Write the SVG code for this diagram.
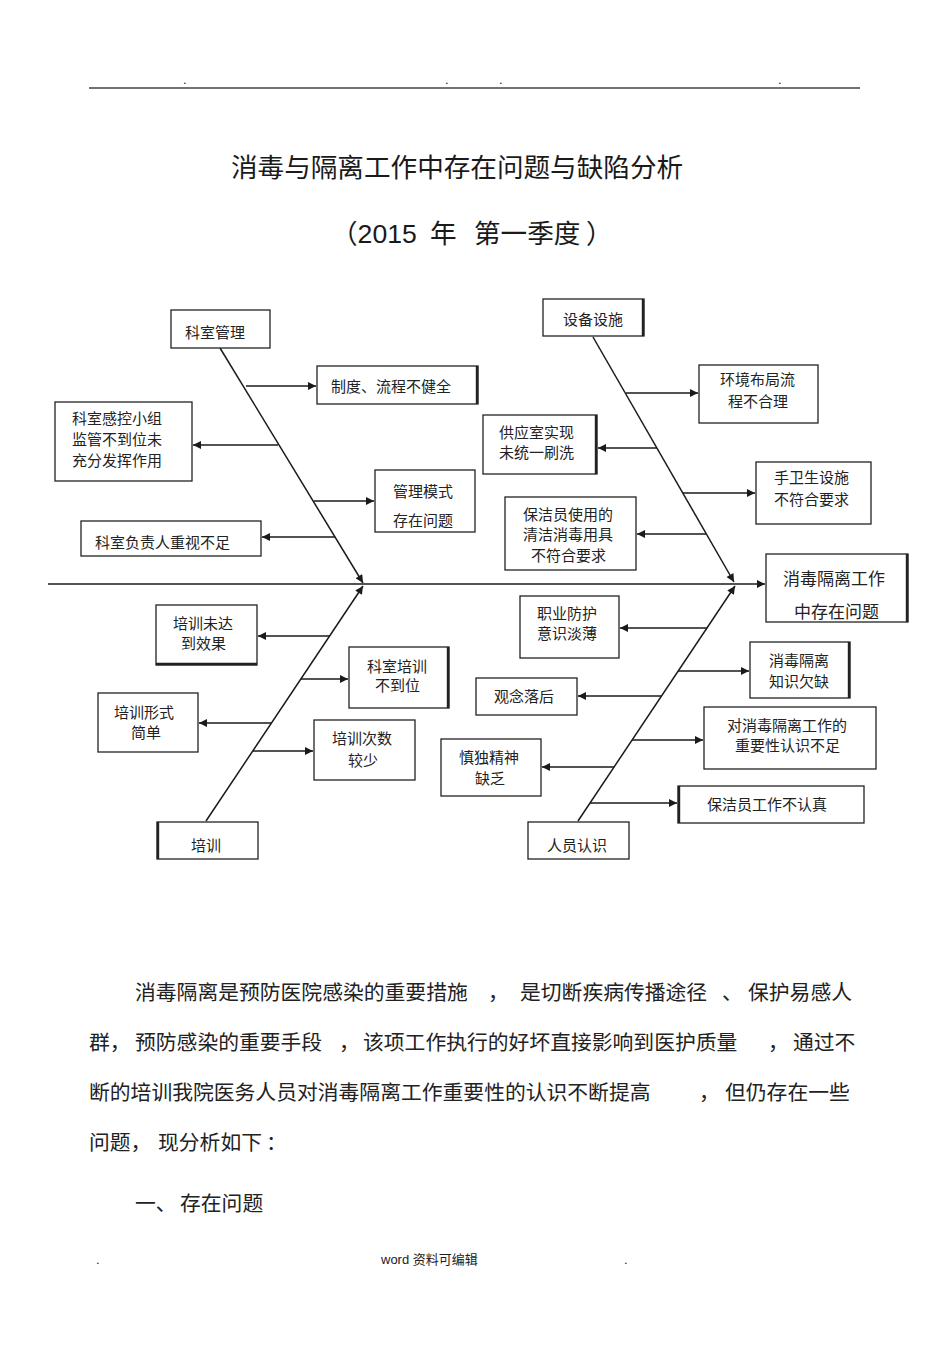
<svg xmlns="http://www.w3.org/2000/svg" width="950" height="1345" viewBox="0 0 950 1345">
<defs>
<marker id="ah" viewBox="0 0 10 10" refX="10" refY="5" markerWidth="9" markerHeight="8" markerUnits="userSpaceOnUse" orient="auto">
<path d="M0,0 L10,5 L0,10 z" fill="#1a1a1a"/>
</marker>
<style>
.bx{fill:#fff;stroke:#222;stroke-width:1.3}
.thk{stroke:#222;stroke-width:2.4}
.ln{stroke:#1a1a1a;stroke-width:1.6;fill:none}
.br{stroke:#1a1a1a;stroke-width:1.5;fill:none;marker-end:url(#ah)}
.t{font-family:'Liberation Sans','Noto Sans CJK SC',sans-serif;font-size:15px;fill:#222}
.h{font-family:'Liberation Sans','Noto Sans CJK SC',sans-serif;font-size:17px;fill:#222}
.p{font-family:'Liberation Sans','Noto Sans CJK SC',sans-serif;font-size:20.8px;fill:#222}
.ti{font-family:'Liberation Sans','Noto Sans CJK SC',sans-serif;font-size:26.6px;fill:#1a1a1a}
.sm{font-family:'Liberation Sans','Noto Sans CJK SC',sans-serif;font-size:13px;fill:#222}
</style>
</defs>
<rect width="950" height="1345" fill="#fff"/>

<g id="header">
<line x1="89" y1="88" x2="860" y2="88" stroke="#444" stroke-width="1.6"/>
<text class="sm" x="183" y="84">.</text>
<text class="sm" x="445" y="84">.</text>
<text class="sm" x="499" y="84">.</text>
<text class="sm" x="778" y="84">.</text>
</g>

<g id="title">
<text class="ti" x="231" y="177">消毒与隔离工作中存在问题与缺陷分析</text>
<text class="ti" x="331" y="243">（2015</text>
<text class="ti" x="430" y="243">年</text>
<text class="ti" x="474" y="243">第一季度</text>
<text class="ti" x="586" y="243">）</text>
</g>

<g id="connectors">
<line class="br" x1="48" y1="584" x2="765" y2="584"/>
<line class="br" x1="220" y1="348" x2="363" y2="583"/>
<line class="br" x1="593" y1="337" x2="734" y2="582"/>
<line class="br" x1="206" y1="821" x2="363" y2="586"/>
<line class="br" x1="578" y1="821" x2="735" y2="586"/>
<line class="br" x1="246" y1="386" x2="316" y2="386"/>
<line class="br" x1="278" y1="445" x2="193" y2="445"/>
<line class="br" x1="314" y1="501" x2="374" y2="501"/>
<line class="br" x1="335" y1="537" x2="262" y2="537"/>
<line class="br" x1="626" y1="393" x2="698" y2="393"/>
<line class="br" x1="657" y1="448" x2="598" y2="448"/>
<line class="br" x1="683" y1="493" x2="755" y2="493"/>
<line class="br" x1="706" y1="534" x2="637" y2="534"/>
<line class="br" x1="330" y1="636" x2="258" y2="636"/>
<line class="br" x1="301" y1="679" x2="348" y2="679"/>
<line class="br" x1="271" y1="723" x2="199" y2="723"/>
<line class="br" x1="253" y1="751" x2="313" y2="751"/>
<line class="br" x1="707" y1="628" x2="620" y2="628"/>
<line class="br" x1="678" y1="671" x2="749" y2="671"/>
<line class="br" x1="661" y1="696" x2="578" y2="696"/>
<line class="br" x1="632" y1="740" x2="703" y2="740"/>
<line class="br" x1="614" y1="767" x2="542" y2="767"/>
<line class="br" x1="590" y1="803" x2="677" y2="803"/>
</g>

<g id="head">
<rect class="bx" x="766" y="554" width="142" height="68"/>
<line class="thk" x1="907" y1="554" x2="907" y2="622"/>
<text class="h" x="783" y="584.5">消毒隔离工作</text>
<text class="h" x="794" y="617.5">中存在问题</text>
</g>

<g id="n-keshiguanli">
<rect class="bx" x="171" y="310" width="99" height="38"/>
<text class="t" x="185" y="337.5">科室管理</text>
</g>
<g id="n-zhidu">
<rect class="bx" x="317" y="366" width="161" height="38"/>
<line class="thk" x1="477" y1="366" x2="477" y2="404"/>
<text class="t" x="331" y="392">制度、流程不健全</text>
</g>
<g id="n-gankong">
<rect class="bx" x="55" y="402" width="137" height="79"/>
<text class="t" x="72" y="423.5">科室感控小组</text>
<text class="t" x="72" y="444.5">监管不到位未</text>
<text class="t" x="72" y="465.5">充分发挥作用</text>
</g>
<g id="n-guanlimoshi">
<rect class="bx" x="375" y="470" width="100" height="62"/>
<text class="t" x="393" y="497">管理模式</text>
<text class="t" x="393" y="525.5">存在问题</text>
</g>
<g id="n-fuzeren">
<rect class="bx" x="81" y="521" width="180" height="35"/>
<text class="t" x="95" y="547.5">科室负责人重视不足</text>
</g>

<g id="n-shebei">
<rect class="bx" x="543" y="299" width="101" height="37"/>
<line class="thk" x1="643" y1="299" x2="643" y2="336"/>
<text class="t" x="563" y="324.5">设备设施</text>
</g>
<g id="n-huanjing">
<rect class="bx" x="699" y="365" width="119" height="58"/>
<text class="t" x="720" y="384.5">环境布局流</text>
<text class="t" x="728" y="407">程不合理</text>
</g>
<g id="n-gongying">
<rect class="bx" x="483" y="415" width="114" height="59"/>
<line class="thk" x1="596" y1="415" x2="596" y2="474"/>
<text class="t" x="499" y="437.5">供应室实现</text>
<text class="t" x="499" y="457.5">未统一刷洗</text>
</g>
<g id="n-shouweisheng">
<rect class="bx" x="756" y="462" width="115" height="62"/>
<text class="t" x="774" y="483">手卫生设施</text>
<text class="t" x="774" y="504.5">不符合要求</text>
</g>
<g id="n-baojieyongju">
<rect class="bx" x="505" y="497" width="131" height="73"/>
<text class="t" x="523" y="519.5">保洁员使用的</text>
<text class="t" x="523" y="539.5">清洁消毒用具</text>
<text class="t" x="531" y="560.5">不符合要求</text>
</g>

<g id="n-peixun">
<rect class="bx" x="157" y="822" width="101" height="37"/>
<line class="thk" x1="158" y1="822" x2="158" y2="859"/>
<text class="t" x="191" y="850.5">培训</text>
</g>
<g id="n-weida">
<rect class="bx" x="156" y="605" width="101" height="60"/>
<line class="thk" x1="156" y1="664" x2="257" y2="664"/>
<text class="t" x="173" y="628.5">培训未达</text>
<text class="t" x="181" y="648.5">到效果</text>
</g>
<g id="n-keshipeixun">
<rect class="bx" x="349" y="647" width="100" height="61" stroke-width="2"/>
<line class="thk" x1="448" y1="647" x2="448" y2="708"/>
<text class="t" x="367" y="671.5">科室培训</text>
<text class="t" x="375" y="690.5">不到位</text>
</g>
<g id="n-xingshi">
<rect class="bx" x="98" y="693" width="100" height="59"/>
<text class="t" x="114" y="717.5">培训形式</text>
<text class="t" x="131" y="737.5">简单</text>
</g>
<g id="n-cishu">
<rect class="bx" x="314" y="720" width="101" height="60"/>
<text class="t" x="332" y="743.5">培训次数</text>
<text class="t" x="348" y="765.5">较少</text>
</g>

<g id="n-renyuan">
<rect class="bx" x="528" y="822" width="101" height="37"/>
<text class="t" x="547" y="850.5">人员认识</text>
</g>
<g id="n-zhiye">
<rect class="bx" x="520" y="596" width="99" height="62"/>
<text class="t" x="537" y="618.5">职业防护</text>
<text class="t" x="537" y="638.5">意识淡薄</text>
</g>
<g id="n-zhishi">
<rect class="bx" x="750" y="642" width="100" height="56"/>
<line class="thk" x1="849" y1="642" x2="849" y2="698"/>
<text class="t" x="769" y="665.5">消毒隔离</text>
<text class="t" x="769" y="686.5">知识欠缺</text>
</g>
<g id="n-guannian">
<rect class="bx" x="476" y="678" width="101" height="37"/>
<text class="t" x="494" y="701.5">观念落后</text>
</g>
<g id="n-zhongyao">
<rect class="bx" x="704" y="707" width="172" height="62"/>
<text class="t" x="727" y="731">对消毒隔离工作的</text>
<text class="t" x="735" y="751">重要性认识不足</text>
</g>
<g id="n-shendu">
<rect class="bx" x="441" y="739" width="100" height="57"/>
<text class="t" x="459" y="763">慎独精神</text>
<text class="t" x="475" y="783.5">缺乏</text>
</g>
<g id="n-baojiegongzuo">
<rect class="bx" x="678" y="786" width="186" height="37"/>
<line class="thk" x1="679" y1="786" x2="679" y2="823"/>
<text class="t" x="707" y="809.5">保洁员工作不认真</text>
</g>

<g id="body">
<text class="p" x="135" y="1000">消毒隔离是预防医院感染的重要措施</text>
<text class="p" x="488" y="1000">，</text>
<text class="p" x="520" y="1000">是切断疾病传播途径</text>
<text class="p" x="722" y="1000">、</text>
<text class="p" x="748" y="1000">保护易感人</text>
<text class="p" x="89" y="1050">群，</text>
<text class="p" x="135" y="1050">预防感染的重要手段</text>
<text class="p" x="339" y="1050">，</text>
<text class="p" x="363" y="1050">该项工作执行的好坏直接影响到医护质量</text>
<text class="p" x="768" y="1050">，</text>
<text class="p" x="793" y="1050">通过不</text>
<text class="p" x="89" y="1100">断的培训我院医务人员对消毒隔离工作重要性的认识不断提高</text>
<text class="p" x="699" y="1100">，</text>
<text class="p" x="725" y="1100">但仍存在一些</text>
<text class="p" x="89" y="1150">问题，</text>
<text class="p" x="158" y="1150">现分析如下</text>
<text class="p" x="266" y="1150">：</text>
<text class="p" x="135" y="1211">一、</text>
<text class="p" x="180" y="1211">存在问题</text>
</g>

<g id="footer">
<text class="sm" x="96" y="1264">.</text>
<text class="sm" x="381" y="1264">word 资料可编辑</text>
<text class="sm" x="624" y="1264">.</text>
</g>
</svg>
